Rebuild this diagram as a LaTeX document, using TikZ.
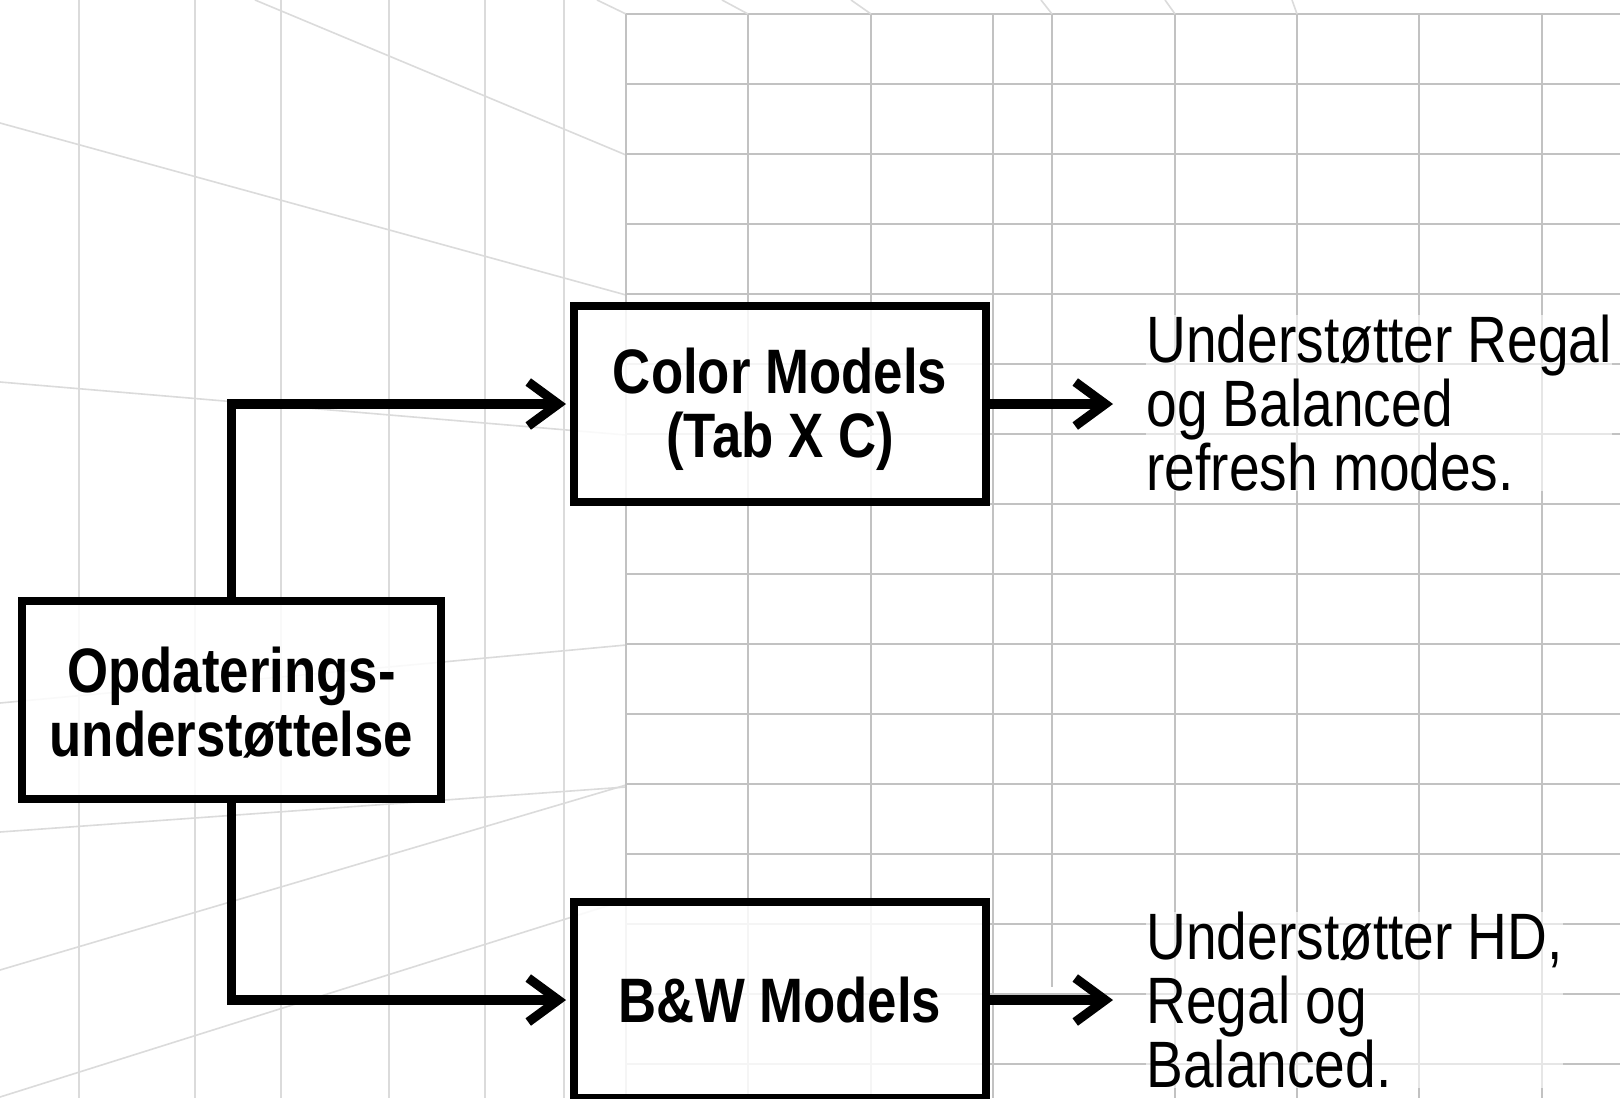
\documentclass[tikz,border=0pt]{standalone}
\usepackage{fontspec}
\setmainfont{Liberation Sans}[FakeStretch=0.84]
\usetikzlibrary{arrows.meta}
\newcommand{\lowerstack}[2]{\raisebox{#1}[\height][\depth]{\begin{tabular}{@{}c@{}}#2\end{tabular}}}
\begin{document}
\begin{tikzpicture}[x=0.5pt,y=-0.5pt,
  backline/.style={draw=gray!48, line width=1.2pt},
  sideline/.style={draw=gray!28, line width=0.8pt},
  box/.style={draw=black, line width=4pt, fill=white, fill opacity=0.85, text opacity=1,
    minimum width=206pt, minimum height=98pt, inner sep=0pt, align=center,
    font=\bfseries\fontsize{31.4}{31.5}\selectfont},
  desc/.style={anchor=north west, inner sep=0pt, align=left,
    fill=white, fill opacity=0.6, text opacity=1,
    font=\fontsize{32.8}{31.8}\selectfont},
  conn/.style={line width=4.6pt, -{Straight Barb[length=15pt,width=22pt]}, shorten >=2pt},
  outconn/.style={line width=4.6pt, -{Straight Barb[length=15pt,width=22pt]}},
]
\fill[white] (0,0) rectangle (1620,1098);
\useasboundingbox (0,0) rectangle (1620,1098);

% left (perspective) wall
\foreach \x in {79,195,281,389,485,564}
  \draw[sideline] (\x,0) -- (\x,1098);
\draw[sideline] (597,0) -- (626,14);
\draw[sideline] (255,0) -- (626,155);
\draw[sideline] (0,123) -- (626,295);
\draw[sideline] (0,382) -- (626,435);
\draw[sideline] (0,703) -- (626,645);
\draw[sideline] (0,832) -- (626,787);
\draw[sideline] (0,970) -- (626,785);
\draw[sideline] (0,1097) -- (626,900);

% back wall grid
\foreach \x in {626,748,871,993,1175,1297,1419,1542}
  \draw[backline] (\x,14) -- (\x,1098);
\draw[backline] (1052,14) -- (1052,987);
\foreach \k in {0,...,15}
  \draw[backline] (626,{14+70*\k}) -- (1620,{14+70*\k});
\draw[sideline] (748,14) -- (722,0);
\draw[sideline] (871,14) -- (851,0);
\draw[sideline] (1052,14) -- (1041,0);
\draw[sideline] (1175,14) -- (1165,0);
\draw[sideline] (1297,14) -- (1292,0);

% nodes
\node[box, minimum width=209.5pt, minimum height=99pt] (opd) at (231.5,700) {\lowerstack{-5.5pt}{Opdaterings-\\understøttelse}};
\node[box] (col) at (780,404) {\lowerstack{-4pt}{Color Models\\(Tab X C)}};
\node[box] (bw) at (780,1000) {B\&W Models};

\node[desc] (t1) at (1146,315) {Understøtter Regal\\og Balanced\\refresh modes.};
\node[desc] (t2) at (1146,912) {Understøtter HD,\\Regal og\\Balanced.};

\coordinate (ca) at (1113,404);
\coordinate (cb) at (1113,1000);

% connectors
\draw[conn] (opd.north) |- (col.west);
\draw[conn] (opd.south) |- (bw.west);
\draw[outconn] (col.east) -- (ca);
\draw[outconn] (bw.east) -- (cb);
\end{tikzpicture}
\end{document}
